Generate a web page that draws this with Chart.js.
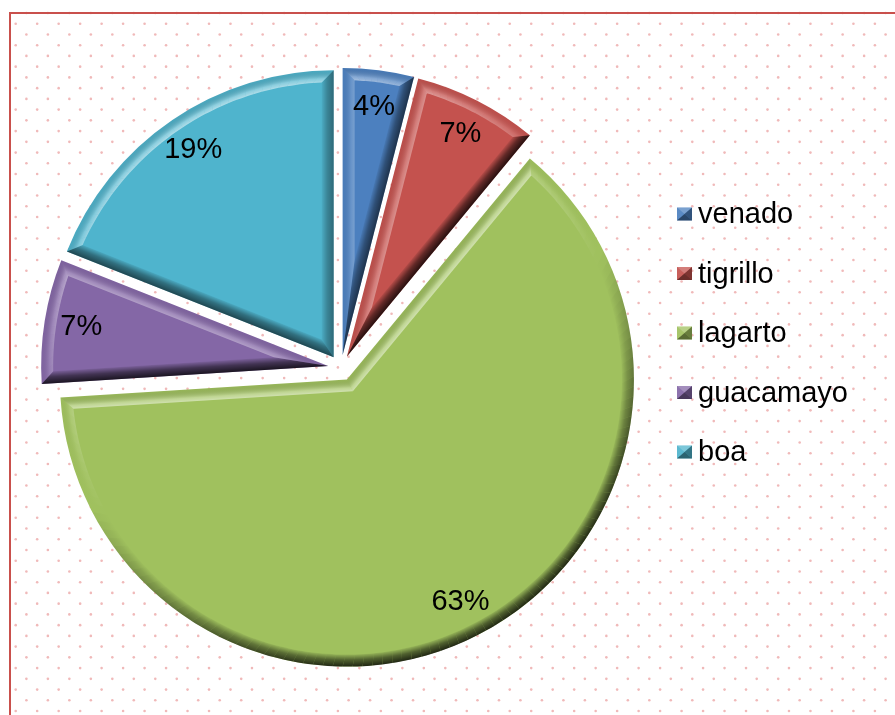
<!DOCTYPE html>
<html>
<head>
<meta charset="utf-8">
<script src="https://cdn.jsdelivr.net/npm/chart.js@4/dist/chart.umd.min.js"></script>
<style>
  html, body { margin: 0; padding: 0; background: #fff; }
  canvas { display: block; }
</style>
</head>
<body>
<canvas id="myChart" width="895" height="715"></canvas>
<script>
// data
var animals = ['venado', 'tigrillo', 'lagarto', 'guacamayo', 'boa'];
var percents = [4, 7, 63, 7, 19];

var sliceColors = ['#4c80bf', '#c4524e', '#a0c15e', '#8467a6', '#4fb4cd'];

var FONT = '"Liberation Sans", Arial, sans-serif';
var EXPLODE = 13;     // px each slice is pulled out
var BEVEL = 12;       // width of the bevel band
var LABEL_R = 250;    // distance of the % labels from the slice tip
var LIGHT = [-0.45, -0.89];

/**
  Fill the current path with a white or black shade depending on which way it faces
*/
function fillShade(ctx, nx, ny, p0, p1) {
  var k = nx * LIGHT[0] + ny * LIGHT[1];
  var g = ctx.createLinearGradient(p0[0], p0[1], p1[0], p1[1]);
  if (k >= 0) {
    g.addColorStop(0, 'rgba(0,0,0,' + (0.06 * k) + ')');
    g.addColorStop(0.7, 'rgba(255,255,255,' + (0.35 * k) + ')');
    g.addColorStop(1, 'rgba(255,255,255,' + (0.55 * k) + ')');
  } else {
    var d = Math.min(1, -k * 1.15);
    g.addColorStop(0, 'rgba(0,0,0,' + (0.8 * d) + ')');
    g.addColorStop(0.55, 'rgba(0,0,0,' + (0.5 * d) + ')');
    g.addColorStop(1, 'rgba(0,0,0,' + (0.08 * d) + ')');
  }
  ctx.fillStyle = g;
  ctx.fill();
}

function polyPath(ctx, pts) {
  ctx.beginPath();
  ctx.moveTo(pts[0][0], pts[0][1]);
  for (var i = 1; i < pts.length; i++) ctx.lineTo(pts[i][0], pts[i][1]);
  ctx.closePath();
}

/**
  Excel-like bevel on one pie slice
*/
function drawBevel(ctx, arc) {
  var cx = arc.x, cy = arc.y;
  var s = arc.startAngle, e = arc.endAngle, R = arc.outerRadius;
  var b = BEVEL;
  var mid = (s + e) / 2, half = (e - s) / 2;
  var d1 = [Math.cos(s), Math.sin(s)], d2 = [Math.cos(e), Math.sin(e)];
  var n1 = [-d1[1], d1[0]];
  var n2 = [d2[1], -d2[0]];
  var k = b / Math.sin(half);
  var tip = [cx + Math.cos(mid) * k, cy + Math.sin(mid) * k];
  var t = Math.sqrt((R - b) * (R - b) - b * b);
  var A = [cx + R * d1[0], cy + R * d1[1]];
  var B = [cx + R * d2[0], cy + R * d2[1]];
  var a1 = [cx + b * n1[0] + t * d1[0], cy + b * n1[1] + t * d1[1]];
  var b1 = [cx + b * n2[0] + t * d2[0], cy + b * n2[1] + t * d2[1]];

  polyPath(ctx, [[cx, cy], A, a1, tip]);
  fillShade(ctx, -n1[0], -n1[1], [cx, cy], [cx + b * n1[0], cy + b * n1[1]]);
  polyPath(ctx, [[cx, cy], tip, b1, B]);
  fillShade(ctx, -n2[0], -n2[1], [cx, cy], [cx + b * n2[0], cy + b * n2[1]]);

  var dIn = Math.asin(b / (R - b));
  var si = s + dIn, ei = e - dIn;
  var steps = Math.max(4, Math.ceil((e - s) / (Math.PI / 90)));
  for (var i = 0; i < steps; i++) {
    var o0 = s + (e - s) * i / steps, o1 = s + (e - s) * (i + 1) / steps;
    var i0 = si + (ei - si) * i / steps, i1 = si + (ei - si) * (i + 1) / steps;
    var m = (o0 + o1) / 2;
    ctx.beginPath();
    ctx.arc(cx, cy, R, o0, o1);
    ctx.arc(cx, cy, R - b, i1, i0, true);
    ctx.closePath();
    fillShade(ctx, Math.cos(m), Math.sin(m),
      [cx + R * Math.cos(m), cy + R * Math.sin(m)],
      [cx + (R - b) * Math.cos(m), cy + (R - b) * Math.sin(m)]);
  }
}

// white page, pink dots and the red frame
var backgroundPlugin = {
  id: 'background',
  beforeDraw: function(chart) {
    var ctx = chart.ctx;
    ctx.save();
    ctx.fillStyle = '#ffffff';
    ctx.fillRect(0, 0, chart.width, chart.height);
    ctx.fillStyle = '#f0b9b9';
    var step = 10.74;
    for (var r = -1; r * step + 23.7 < chart.height + 5; r++) {
      var y = 23.7 + r * step;
      var x0 = (r % 2 === 0) ? 15.7 : 26.4;
      for (var x = x0; x < chart.width + 5; x += step * 2) {
        ctx.beginPath();
        ctx.arc(x, y, 1.3, 0, Math.PI * 2);
        ctx.fill();
      }
    }
    ctx.fillStyle = '#c9504c';
    ctx.fillRect(9, 12, 2, chart.height - 12);
    ctx.fillRect(9, 12, chart.width - 9, 2);
    ctx.restore();
  }
};

// pull every slice out and bevel it
var explodePlugin = {
  id: 'explode',
  beforeDatasetDraw: function(chart, args) {
    var ctx = chart.ctx;
    args.meta.data.forEach(function(arc) {
      var mid = (arc.startAngle + arc.endAngle) / 2;
      ctx.save();
      ctx.translate(Math.cos(mid) * EXPLODE, Math.sin(mid) * EXPLODE);
      arc.draw(ctx);
      drawBevel(ctx, arc);
      ctx.restore();
    });
    return false;
  }
};

var labelPlugin = {
  id: 'pctLabels',
  afterDatasetsDraw: function(chart) {
    var ctx = chart.ctx;
    var meta = chart.getDatasetMeta(0);
    ctx.save();
    ctx.font = '29px ' + FONT;
    ctx.fillStyle = '#000';
    ctx.textAlign = 'center';
    ctx.textBaseline = 'middle';
    meta.data.forEach(function(arc, i) {
      var mid = (arc.startAngle + arc.endAngle) / 2;
      var r = EXPLODE + LABEL_R;
      ctx.fillText(percents[i] + '%', arc.x + Math.cos(mid) * r, arc.y + Math.sin(mid) * r);
    });
    ctx.restore();
  }
};

var legendPlugin = {
  id: 'sideLegend',
  afterDraw: function(chart) {
    var ctx = chart.ctx;
    ctx.save();
    ctx.font = '29px ' + FONT;
    ctx.textBaseline = 'middle';
    animals.forEach(function(name, i) {
      var y = 214 + i * 59.5;
      var x = 677, w = 15, h = 13, top = y - h / 2;
      var cx = x + w / 2, cy = y;
      ctx.fillStyle = sliceColors[i];
      ctx.fillRect(x, top, w, h);
      var faces = [
        [[x, top], [x + w, top], [cx, cy], 'rgba(255,255,255,0.25)'],
        [[x, top], [x, top + h], [cx, cy], 'rgba(255,255,255,0.08)'],
        [[x + w, top], [x + w, top + h], [cx, cy], 'rgba(0,0,0,0.35)'],
        [[x, top + h], [x + w, top + h], [cx, cy], 'rgba(0,0,0,0.45)']
      ];
      faces.forEach(function(f) {
        ctx.beginPath();
        ctx.moveTo(f[0][0], f[0][1]);
        ctx.lineTo(f[1][0], f[1][1]);
        ctx.lineTo(f[2][0], f[2][1]);
        ctx.closePath();
        ctx.fillStyle = f[3];
        ctx.fill();
      });
      ctx.fillStyle = '#000';
      ctx.fillText(name, 698, y + 1);
    });
    ctx.restore();
  }
};

window.onload = function() {
  var ctx = document.getElementById('myChart').getContext('2d');
  new Chart(ctx, {
    type: 'pie',
    data: {
      labels: animals,
      datasets: [{
        data: percents,
        backgroundColor: sliceColors,
        borderWidth: 0,
        radius: 287
      }]
    },
    options: {
      responsive: false,
      animation: false,
      events: [],
      layout: { padding: { left: 40, right: 253, top: 40, bottom: 19 } },
      plugins: {
        legend: { display: false },
        tooltip: { enabled: false }
      }
    },
    plugins: [backgroundPlugin, explodePlugin, labelPlugin, legendPlugin]
  });
};
</script>
</body>
</html>
